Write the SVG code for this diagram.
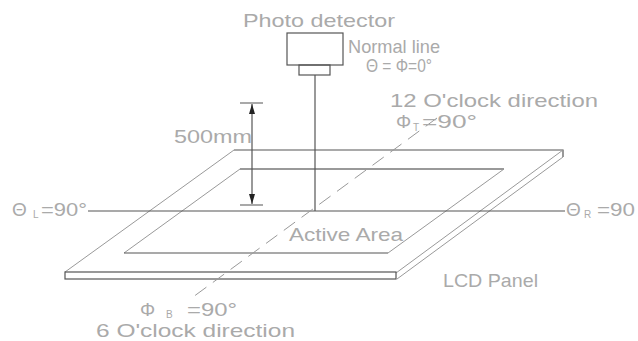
<svg xmlns="http://www.w3.org/2000/svg" width="638" height="341" viewBox="0 0 638 341">
<defs>
<marker id="ah" viewBox="0 0 10 6" refX="10" refY="3" markerWidth="10" markerHeight="6" markerUnits="userSpaceOnUse" orient="auto">
<path d="M0,0 L10,3 L0,6 Z" fill="#222"/>
</marker>
</defs>
<style>
.ln{stroke:#555;stroke-width:1.2;fill:none}
.lt{stroke:#999;stroke-width:1;fill:none}
.t{font-family:"Liberation Sans",Arial,sans-serif;fill:#aaaaaa;font-size:19px}
.s{font-family:"Liberation Sans",Arial,sans-serif;fill:#aaaaaa;font-size:10px}
</style>
<rect width="638" height="341" fill="#fff"/>
<g id="detector">
<rect class="ln" x="287" y="33" width="56" height="32"/>
<rect class="ln" x="299" y="65" width="31" height="10"/>
<text class="t" x="243" y="27" textLength="152" lengthAdjust="spacingAndGlyphs">Photo detector</text>
</g>
<g id="panel">
<path class="ln" d="M234,150 H563 V157"/>
<path class="lt" d="M234,150 L65,272"/>
<path class="lt" d="M563,150 L396,273 M563,157 L397,279"/>
<rect class="ln" x="65" y="272" width="331" height="7"/>
<text class="t" x="443" y="287" textLength="95" lengthAdjust="spacingAndGlyphs">LCD Panel</text>
</g>
<g id="active-area">
<path d="M240,169 H504" stroke="#999" stroke-width="2" fill="none"/>
<path class="lt" d="M240,169 L124,253 M504,169 L388,253"/>
<path class="ln" d="M124,253 H388"/>
<text class="t" x="289" y="241" textLength="114" lengthAdjust="spacingAndGlyphs">Active Area</text>
</g>
<g id="connectors">
<path class="ln" d="M315,75 V211"/>
<path class="ln" d="M88,211 H565"/>
<path class="lt" d="M437,118 L193,297" stroke-dasharray="14,8"/>
<path class="ln" d="M240,103 H263 M240,205 H263"/>
<path class="ln" d="M252,154 V104" marker-end="url(#ah)"/>
<path class="ln" d="M252,154 V204" marker-end="url(#ah)"/>
</g>
<g id="labels">
<text class="t" x="348" y="53" textLength="92" lengthAdjust="spacingAndGlyphs">Normal line</text>
<text class="t" x="366" y="72" textLength="66" lengthAdjust="spacingAndGlyphs">Θ = Φ=0°</text>
<text class="t" x="390" y="107" textLength="208" lengthAdjust="spacingAndGlyphs">12 O'clock direction</text>
<text class="t" x="396" y="128">Φ</text>
<text class="s" x="413" y="131">T</text>
<text class="t" x="422" y="128" textLength="55" lengthAdjust="spacingAndGlyphs">=90°</text>
<text class="t" x="174" y="143" textLength="78" lengthAdjust="spacingAndGlyphs">500mm</text>
<text class="t" x="12" y="216">Θ</text>
<text class="s" x="33" y="218">L</text>
<text class="t" x="41" y="216" textLength="46" lengthAdjust="spacingAndGlyphs">=90°</text>
<text class="t" x="566" y="216">Θ</text>
<text class="s" x="584" y="218">R</text>
<text class="t" x="597" y="216" textLength="38" lengthAdjust="spacingAndGlyphs">=90</text>
<text class="t" x="140" y="316">Φ</text>
<text class="s" x="166" y="318">B</text>
<text class="t" x="187" y="316" textLength="50" lengthAdjust="spacingAndGlyphs">=90°</text>
<text class="t" x="96" y="337" textLength="199" lengthAdjust="spacingAndGlyphs">6 O'clock direction</text>
</g>
</svg>
